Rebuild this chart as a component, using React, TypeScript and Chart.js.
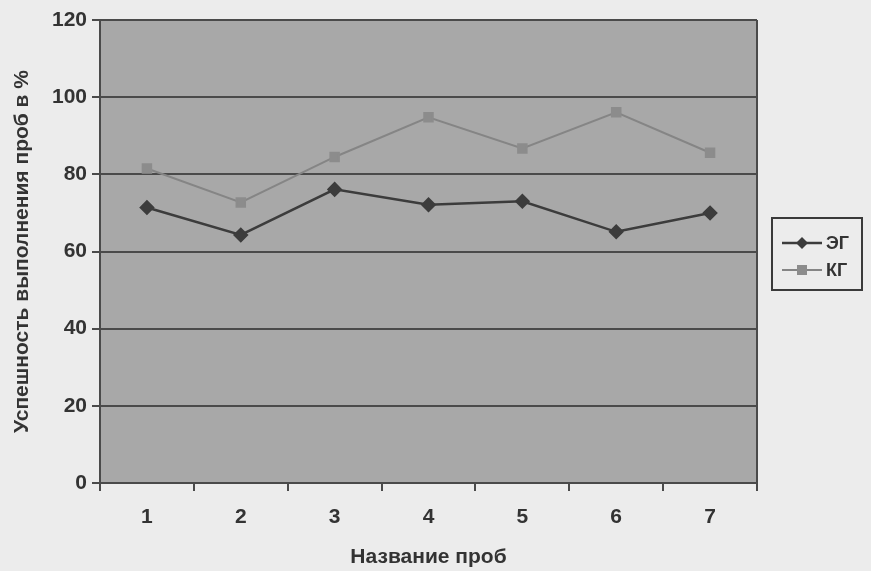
import React, { useEffect, useRef } from "react";
import { Chart, registerables } from "chart.js";

Chart.register(...registerables);

const categories = ["1", "2", "3", "4", "5", "6", "7"];
const egValues = [71.4, 64.3, 76.1, 72.1, 73.0, 65.1, 70.0];
const kgValues = [81.5, 72.7, 84.5, 94.8, 86.7, 96.1, 85.6];
const seriesLabels = ["ЭГ", "КГ"];
const yTitle = "Успешность выполнения проб в %";
const xTitle = "Название проб";

const FONT = "'Liberation Sans', Arial, sans-serif";

const bgPlugin = {
  id: "plotBg",
  beforeDraw(chart: any) {
    const { ctx, chartArea: a } = chart;
    ctx.save();
    ctx.fillStyle = "#a8a8a8";
    ctx.fillRect(a.left, a.top, a.right - a.left, a.bottom - a.top);
    ctx.restore();
  },
  afterDraw(chart: any) {
    const { ctx, chartArea: a } = chart;
    ctx.save();
    ctx.strokeStyle = "#4a4a4a";
    ctx.lineWidth = 2;
    ctx.beginPath();
    ctx.moveTo(a.right, a.top);
    ctx.lineTo(a.right, a.bottom);
    ctx.stroke();
    // legend
    const bx = 772, by = 218, bw = 90, bh = 72;
    ctx.fillStyle = "#ececec";
    ctx.fillRect(bx, by, bw, bh);
    ctx.strokeStyle = "#3a3a3a";
    ctx.lineWidth = 2;
    ctx.strokeRect(bx, by, bw, bh);
    chart.data.datasets.forEach((ds: any, i: number) => {
      const y = 243 + i * 27;
      ctx.strokeStyle = ds.borderColor;
      ctx.lineWidth = ds.borderWidth;
      ctx.beginPath();
      ctx.moveTo(782, y);
      ctx.lineTo(822, y);
      ctx.stroke();
      ctx.fillStyle = ds.pointBackgroundColor;
      const r = 6;
      ctx.beginPath();
      if (ds.pointStyle === "rectRot") {
        ctx.moveTo(802, y - r);
        ctx.lineTo(802 + r, y);
        ctx.lineTo(802, y + r);
        ctx.lineTo(802 - r, y);
        ctx.closePath();
      } else {
        ctx.rect(802 - 5, y - 5, 10, 10);
      }
      ctx.fill();
      ctx.fillStyle = "#333333";
      ctx.font = `bold 18px ${FONT}`;
      ctx.textBaseline = "middle";
      ctx.textAlign = "left";
      ctx.fillText(ds.label, 826, y + 1);
    });
    ctx.restore();
  },
};

export default function App() {
  const ref = useRef<HTMLCanvasElement>(null);
  useEffect(() => {
    const chart = new Chart(ref.current!, {
      type: "line",
      data: {
        labels: categories,
        datasets: [
          {
            label: seriesLabels[0],
            data: egValues,
            borderColor: "#3c3c3c",
            backgroundColor: "#3c3c3c",
            pointBackgroundColor: "#3c3c3c",
            pointBorderColor: "#3c3c3c",
            borderWidth: 2.5,
            pointStyle: "rectRot",
            pointRadius: 6,
            tension: 0,
          },
          {
            label: seriesLabels[1],
            data: kgValues,
            borderColor: "#858585",
            backgroundColor: "#8c8c8c",
            pointBackgroundColor: "#8c8c8c",
            pointBorderColor: "#8c8c8c",
            borderWidth: 2,
            pointStyle: "rect",
            pointRadius: 6,
            tension: 0,
          },
        ],
      },
      options: {
        responsive: false,
        animation: false,
        layout: { padding: { top: 20, right: 114, left: 0, bottom: 0 } },
        plugins: { legend: { display: false }, tooltip: { enabled: false } },
        scales: {
          x: {
            offset: true,
            grid: {
              offset: true,
              drawOnChartArea: false,
              drawTicks: true,
              tickLength: 8,
              color: "#4a4a4a",
              lineWidth: 2,
            },
            border: { color: "#4a4a4a", width: 2 },
            ticks: {
              color: "#333333",
              font: { family: FONT, size: 21, weight: "bold" },
              padding: 14,
              maxRotation: 0,
            },
            title: {
              display: true,
              text: xTitle,
              color: "#333333",
              font: { family: FONT, size: 21, weight: "bold" },
              padding: { top: 0, bottom: 1 },
            },
            afterFit(scale: any) {
              scale.height = 88;
            },
          },
          y: {
            min: 0,
            max: 120,
            ticks: {
              stepSize: 20,
              color: "#333333",
              font: { family: FONT, size: 21, weight: "bold" },
              padding: 5,
            },
            grid: {
              color: "#4a4a4a",
              lineWidth: 2,
              drawTicks: true,
              tickLength: 8,
            },
            border: { color: "#4a4a4a", width: 2 },
            title: {
              display: true,
              text: yTitle,
              color: "#333333",
              font: { family: FONT, size: 21, weight: "bold" },
              padding: { top: 10, bottom: 0 },
            },
            afterFit(scale: any) {
              scale.width = 100;
            },
          },
        },
      },
      plugins: [bgPlugin],
    } as any);
    return () => chart.destroy();
  }, []);
  return (
    <div
      style={{
        position: "fixed",
        left: 0,
        top: 0,
        width: 871,
        height: 571,
        background: "#ececec",
      }}
    >
      <canvas ref={ref} width={871} height={571} style={{ display: "block" }} />
    </div>
  );
}
